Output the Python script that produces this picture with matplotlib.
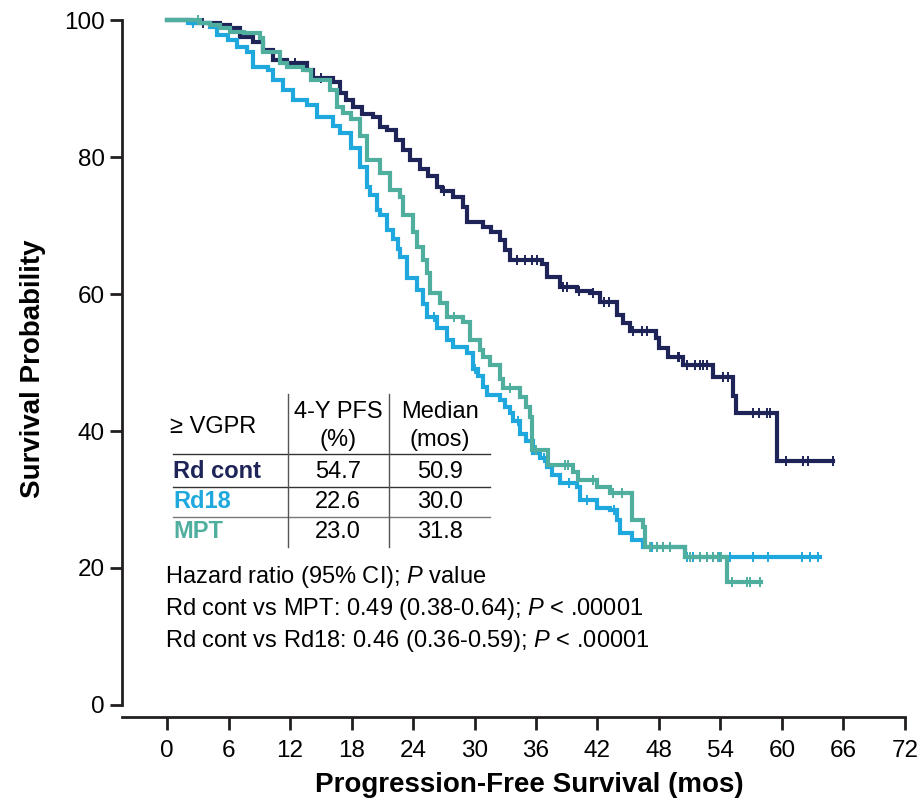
import numpy as np
import matplotlib
matplotlib.use("Agg")
import matplotlib.pyplot as plt
from matplotlib.lines import Line2D

plt.rcParams['font.family'] = ['Liberation Sans', 'DejaVu Sans']
plt.rcParams['mathtext.fontset'] = 'custom'
plt.rcParams['mathtext.rm'] = 'Liberation Sans'
plt.rcParams['mathtext.it'] = 'Liberation Sans:italic'

# step curves: months, survival (%)
rdc_t = [0, 2.4, 5.2, 6.1, 7.1, 8.4, 9.4, 10.3, 11.7, 13.7, 14.2, 16.2, 16.9, 17.5, 18.1,
         19.0, 20.1, 20.8, 21.5, 22.3, 23.0, 23.7, 24.7, 25.5, 26.3, 26.8, 27.9, 28.9, 29.3,
         30.8, 31.6, 32.5, 33.0, 33.5, 36.6, 37.1, 38.3, 40.0, 41.3, 42.2, 43.9, 44.5, 45.2,
         47.7, 48.0, 48.9, 50.3, 53.3, 55.2, 55.5, 59.5, 65.0]
rdc_s = [100, 99.5, 99.3, 98.8, 97.5, 96.8, 95.6, 94.2, 93.7, 92.7, 91.5, 91.0, 89.3, 88.3, 87.3,
         86.3, 85.8, 84.4, 83.9, 82.5, 81.0, 79.6, 78.3, 77.2, 75.6, 75.0, 74.2, 72.7, 70.5,
         69.8, 69.0, 67.9, 66.4, 65.0, 64.4, 62.5, 61.0, 60.5, 60.1, 58.8, 57.0, 55.8, 54.6,
         53.6, 52.1, 50.8, 49.6, 47.9, 45.1, 42.6, 35.6, 35.6]

rd18_t = [0, 2.0, 4.2, 4.9, 5.9, 6.8, 7.8, 8.4, 9.8, 10.3, 11.3, 12.3, 13.7, 14.6, 16.2, 16.9,
          17.9, 18.8, 19.5, 19.8, 20.5, 20.8, 21.5, 22.0, 22.5, 22.7, 23.4, 24.4, 25.0, 25.4,
          26.3, 27.3, 27.9, 29.3, 29.9, 30.3, 30.8, 31.2, 32.5, 33.0, 33.5, 33.8, 34.4, 35.0,
          35.7, 36.4, 37.1, 37.6, 38.3, 40.0, 40.3, 42.0, 43.2, 43.9, 44.2, 45.4, 46.4, 50.5, 63.7]
rd18_s = [100, 99.5, 99.0, 97.8, 97.1, 96.1, 95.3, 93.1, 92.7, 91.2, 89.8, 88.3, 87.6, 85.8, 84.6, 83.5,
          81.3, 78.5, 75.6, 74.5, 72.3, 71.5, 69.3, 68.0, 66.5, 65.4, 62.3, 60.6, 58.5, 56.6,
          55.0, 53.3, 52.3, 51.4, 49.0, 48.0, 46.4, 45.2, 44.5, 43.5, 42.6, 41.5, 39.5, 38.5,
          36.8, 36.0, 34.7, 33.6, 32.4, 31.8, 29.9, 28.8, 28.5, 27.0, 25.1, 24.1, 23.1, 21.6, 21.6]

mpt_t = [0, 3.2, 4.2, 5.2, 6.1, 7.5, 9.1, 9.4, 11.0, 11.7, 13.3, 14.0, 15.9, 16.6, 17.2, 17.9,
         18.8, 19.5, 20.8, 21.8, 22.7, 23.0, 24.0, 24.4, 25.0, 25.4, 25.7, 26.6, 27.3, 28.9,
         29.6, 30.5, 30.8, 31.5, 32.5, 32.8, 34.4, 35.0, 35.4, 35.6, 37.2, 39.6, 40.1, 42.0,
         43.2, 45.4, 46.4, 46.6, 50.5, 54.6, 58.0]
mpt_s = [100, 99.6, 99.3, 98.8, 98.3, 98.1, 97.4, 95.3, 93.7, 93.1, 92.7, 91.2, 89.8, 87.3, 86.4, 85.6,
         83.0, 79.6, 77.7, 75.2, 74.2, 71.5, 69.1, 66.9, 65.0, 63.0, 60.1, 58.7, 56.6, 55.9,
         53.3, 51.8, 50.8, 49.6, 47.6, 46.3, 45.0, 43.5, 42.0, 37.2, 35.0, 34.0, 32.8, 31.8,
         30.9, 27.0, 26.0, 23.1, 21.6, 18.0, 18.0]

# censor marks
rdc_cens = [3.5, 12.5, 15.0, 27.0, 34.1, 34.9, 35.6, 36.1, 38.6, 39.0, 40.2, 41.6, 42.6, 43.1,
            45.5, 46.3, 46.8, 49.9, 50.0, 50.7, 51.5, 52.0, 52.3, 52.7, 54.2, 54.7,
            57.2, 57.8, 58.5, 58.8, 60.4, 62.1, 62.5, 65.0]
rd18_cens = [2.5, 26.0, 30.0, 34.2, 36.8, 39.2, 41.0, 43.6, 47.3, 48.4, 49.1, 50.7, 51.3, 52.0, 52.7,
             53.3, 54.0, 54.9, 57.2, 58.6, 62.0, 62.7, 63.5]
mpt_cens = [3.0, 28.0, 33.5, 36.0, 38.8, 39.1, 41.6, 43.5, 44.4, 47.1, 47.8, 48.4, 49.1,
            51.0, 52.0, 52.7, 53.3, 53.8, 54.1, 55.1, 56.6, 56.9, 57.9]

arms = ['Rd cont', 'Rd18', 'MPT']
pfs4y = ['54.7', '22.6', '23.0']
median = ['50.9', '30.0', '31.8']
colors = ['#1e2458', '#1ea8dd', '#50ae9e']

xticks = list(range(0, 73, 6))
yticks = [0, 20, 40, 60, 80, 100]

W, H = 919, 802
fig = plt.figure(figsize=(W / 100, H / 100), dpi=100)
ax = fig.add_axes([122 / W, 1 - 717.3 / H, (908 - 122) / W, (717.3 - 13.2) / H])


def surv_at(t, s, x):
    idx = np.searchsorted(t, x, side='right') - 1
    return np.array(s)[idx]


curves = [(rdc_t, rdc_s, rdc_cens), (rd18_t, rd18_s, rd18_cens), (mpt_t, mpt_s, mpt_cens)]
for i, (t, s, c) in enumerate(curves):
    ax.plot(t, s, drawstyle='steps-post', color=colors[i], lw=3.0, zorder=3 + i,
            solid_joinstyle='miter', clip_on=False)
    ax.plot(c, surv_at(t, s, c), ls='none', marker='|', ms=6.5, mew=1.4,
            color=colors[i], zorder=3 + i, clip_on=False)

ax.set_xlim(-4.4, 72.3)
ax.set_ylim(-1.8, 101)
ax.set_xticks(xticks)
ax.set_yticks(yticks)
for side in ['top', 'right']:
    ax.spines[side].set_visible(False)
ax.spines['left'].set_bounds(0, 100)
ax.spines['bottom'].set_bounds(-4.4, 72)
for side in ['left', 'bottom']:
    ax.spines[side].set_linewidth(2.0)
    ax.spines[side].set_color('#231f20')
ax.tick_params(axis='y', direction='out', length=8.5, width=2.0, color='#231f20',
               labelsize=17.5, pad=4)
ax.tick_params(axis='x', direction='out', length=9, width=2.0, color='#231f20',
               labelsize=17.5, pad=7)


def px(x, y):
    return x / W, 1 - y / H


fig.text(*px(33, 369), 'Survival Probability', rotation=90, fontsize=20, fontweight='bold',
         ha='center', va='center')
fig.text(*px(529, 785), 'Progression-Free Survival (mos)', fontsize=20, fontweight='bold',
         ha='center', va='center')

# table
fs = 17
fig.text(*px(170, 427), '≥ VGPR', fontsize=fs, ha='left', va='center')
fig.text(*px(338, 412), '4-Y PFS', fontsize=fs, ha='center', va='center')
fig.text(*px(338, 440), '(%)', fontsize=fs, ha='center', va='center')
fig.text(*px(440, 412), 'Median', fontsize=fs, ha='center', va='center')
fig.text(*px(440, 440), '(mos)', fontsize=fs, ha='center', va='center')
row_y = [472, 502, 532]
for i in range(3):
    fig.text(*px(173, row_y[i]), arms[i], fontsize=fs, fontweight='bold', color=colors[i],
             ha='left', va='center')
    fig.text(*px(338, row_y[i]), pfs4y[i], fontsize=fs, ha='center', va='center')
    fig.text(*px(440, row_y[i]), median[i], fontsize=fs, ha='center', va='center')

for yy, col in [(454, '#333333'), (487, '#333333'), (517, '#777777')]:
    fig.add_artist(Line2D([173 / W, 490 / W], [1 - yy / H, 1 - yy / H], lw=1.0, color=col))
for xx in [288, 389]:
    fig.add_artist(Line2D([xx / W, xx / W], [1 - 394 / H, 1 - 547 / H], lw=1.0, color='#555555'))

fig.text(*px(165, 577), r'Hazard ratio (95% CI); $\mathit{P}$ value', fontsize=fs, va='center')
fig.text(*px(165, 609), r'Rd cont vs MPT: 0.49 (0.38-0.64); $\mathit{P}$ < .00001', fontsize=fs,
         va='center')
fig.text(*px(165, 641), r'Rd cont vs Rd18: 0.46 (0.36-0.59); $\mathit{P}$ < .00001', fontsize=fs,
         va='center')

fig.savefig('out.png', dpi=100)
